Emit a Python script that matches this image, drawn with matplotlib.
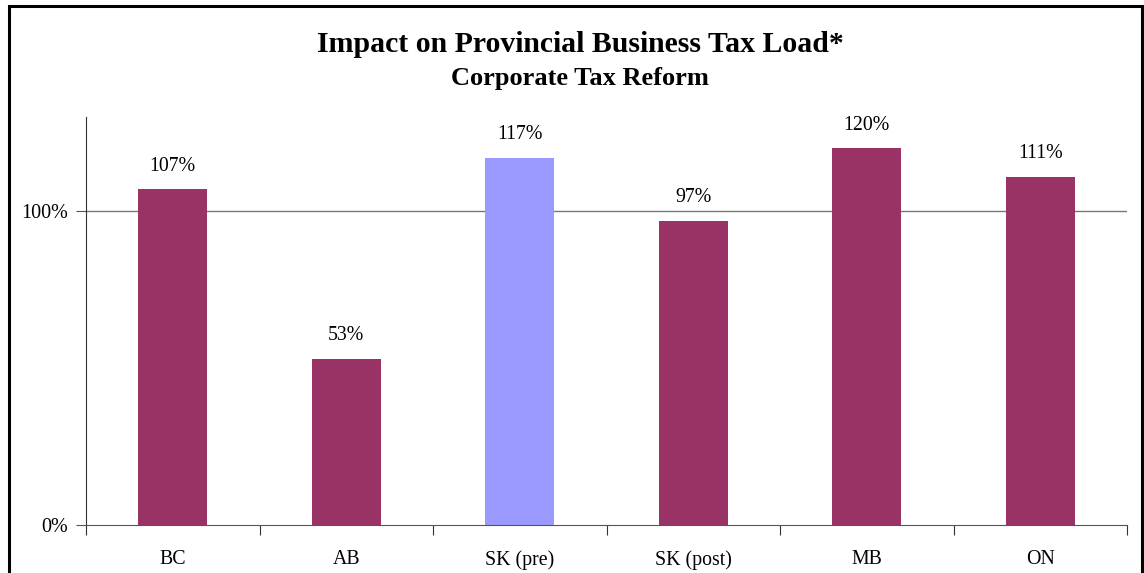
import matplotlib.pyplot as plt
from matplotlib.patches import Rectangle

# Данные диаграммы
provinces = ['BC', 'AB', 'SK (pre)', 'SK (post)', 'MB', 'ON']
tax_load = [107, 53, 117, 97, 120, 111]
bar_colors = ['#993366', '#993366', '#9999FF', '#993366', '#993366', '#993366']

plt.rcParams['font.family'] = ['Liberation Serif', 'DejaVu Serif']

fig = plt.figure(figsize=(11.44, 5.73), dpi=100)
ax = fig.add_axes([86 / 1144, 1 - 525 / 573, (1127 - 86) / 1144, (525 - 117) / 573])

x = range(len(provinces))
bars = ax.bar(x, tax_load, width=0.4, color=bar_colors, zorder=2)

# Подписи значений над столбцами
for b, v in zip(bars, tax_load):
    ax.text(b.get_x() + b.get_width() / 2, v + 4.3, f'{v}%',
            ha='center', va='bottom', fontsize=14.3)

ax.set_xlim(-0.5, len(provinces) - 0.5)
ax.set_ylim(0, 130)
ax.set_yticks([0, 100])
ax.set_yticklabels(['0%', '100%'], fontsize=14.5)
ax.axhline(100, color='#777777', linewidth=1, zorder=1)

# Засечки по оси X на границах категорий
ax.set_xticks([i - 0.5 for i in range(len(provinces) + 1)])
ax.set_xticklabels([])
ax.set_xticks(list(x), minor=True)
ax.set_xticklabels(provinces, minor=True, fontsize=14.3)
ax.tick_params(axis='x', which='minor', length=0, pad=18)
ax.tick_params(axis='x', which='major', length=7, color='#333333', direction='out')
ax.tick_params(axis='y', length=7, color='#555555', pad=6)

for s in ['top', 'right']:
    ax.spines[s].set_visible(False)
ax.spines['left'].set_color('#333333')
ax.spines['bottom'].set_color('#555555')

fig.text(580 / 1144, 1 - 44 / 573, 'Impact on Provincial Business Tax Load*',
         ha='center', va='center', fontsize=21.4, fontweight='bold')
fig.text(580 / 1144, 1 - 79 / 573, 'Corporate Tax Reform',
         ha='center', va='center', fontsize=19, fontweight='bold')

# Рамка области диаграммы
fig.patches.append(Rectangle((9 / 1144, -0.1), (1142 - 9) / 1144, 1.1 - 6.5 / 573,
                             transform=fig.transFigure, fill=False,
                             edgecolor='black', linewidth=2.2))

fig.savefig('out.png', dpi=100)
